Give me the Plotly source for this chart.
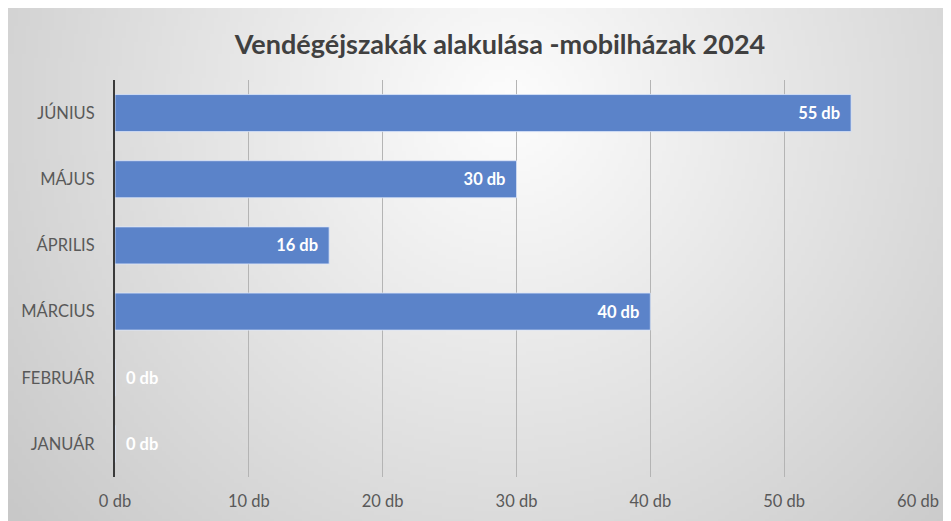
import base64, struct, zlib, math
import plotly.graph_objects as go

# ---- data ----
months = ["JANUÁR", "FEBRUÁR", "MÁRCIUS", "ÁPRILIS", "MÁJUS", "JÚNIUS"]
nights = [0, 0, 40, 16, 30, 55]
x_ticks = [0, 10, 20, 30, 40, 50, 60]
x_tick_labels = ["0 db", "10 db", "20 db", "30 db", "40 db", "50 db", "60 db"]
title_text = "Vendégéjszakák alakulása -mobilházak 2024"

# ---- radial gradient background as PNG (style only) ----
def gradient_png(w, h, full_w, full_h, cx, cy, rad, c0, c1):
    rows = []
    for j in range(h):
        row = bytearray([0])
        Y = (j + 0.5) / h * full_h
        for i in range(w):
            X = (i + 0.5) / w * full_w
            d = math.hypot(X - cx, Y - cy) / rad
            t = min(1.0, d)
            c = int(round(c0 + (c1 - c0) * t))
            row += bytes([c, c, c])
        rows.append(bytes(row))
    raw = b"".join(rows)
    def chunk(tag, data):
        return struct.pack(">I", len(data)) + tag + data + struct.pack(">I", zlib.crc32(tag + data) & 0xffffffff)
    png = b"\x89PNG\r\n\x1a\n"
    png += chunk(b"IHDR", struct.pack(">IIBBBBB", w, h, 8, 2, 0, 0, 0))
    png += chunk(b"IDAT", zlib.compress(raw, 9))
    png += chunk(b"IEND", b"")
    return "data:image/png;base64," + base64.b64encode(png).decode()

W, H = 951, 521
L, R, T, B = 107, 41, 72, 52
pw, ph = W - L - R, H - T - B
img = gradient_png(238, 130, W, H, 500, 100, 640, 253, 200)

text_pos = ["outside" if v == 0 else "inside" for v in nights]
text_col = ["white"] * len(nights)
labels = [f"\u00a0\u00a0{v} db" if v == 0 else f"{v} db\u00a0\u00a0" for v in nights]

fig = go.Figure(go.Bar(
    y=months, x=nights, orientation="h",
    marker=dict(color="#5b83c9", line=dict(color="rgba(220,230,250,0.8)", width=1)),
    text=labels,
    textposition=text_pos,
    insidetextanchor="end",
    textfont=dict(family="Lato", size=16.5, color=text_col, weight="bold"),
    cliponaxis=False,
    hoverinfo="skip",
))

fig.update_layout(
    width=W, height=H,
    margin=dict(l=L, r=R, t=T, b=B),
    paper_bgcolor="white",
    plot_bgcolor="rgba(0,0,0,0)",
    bargap=0.44,
    showlegend=False,
    title=dict(text=title_text, x=(492 - L) / pw, xref="paper", xanchor="center",
               y=1 - 37 / H, yanchor="middle",
               font=dict(family="Lato", size=27, color="#404040", weight="bold")),
    xaxis=dict(range=[0, 60], tickvals=x_ticks, ticktext=x_tick_labels,
               showgrid=True, gridcolor="#b4b4b4", gridwidth=1,
               zeroline=False, showline=False, ticks="",
               tickfont=dict(family="Lato", size=16.5, color="#595959"),
               ticklabelstandoff=12),
    yaxis=dict(showline=True, linecolor="#3a3a3a", linewidth=2, showgrid=False,
               ticks="", tickfont=dict(family="Lato", size=16.5, color="#595959"),
               ticklabelstandoff=15),
    images=[dict(source=img, xref="paper", yref="paper",
                 x=-L / pw, y=1 + T / ph,
                 sizex=W / pw, sizey=H / ph,
                 xanchor="left", yanchor="top", sizing="stretch", layer="below")],
)

fig.write_html("out.html")
